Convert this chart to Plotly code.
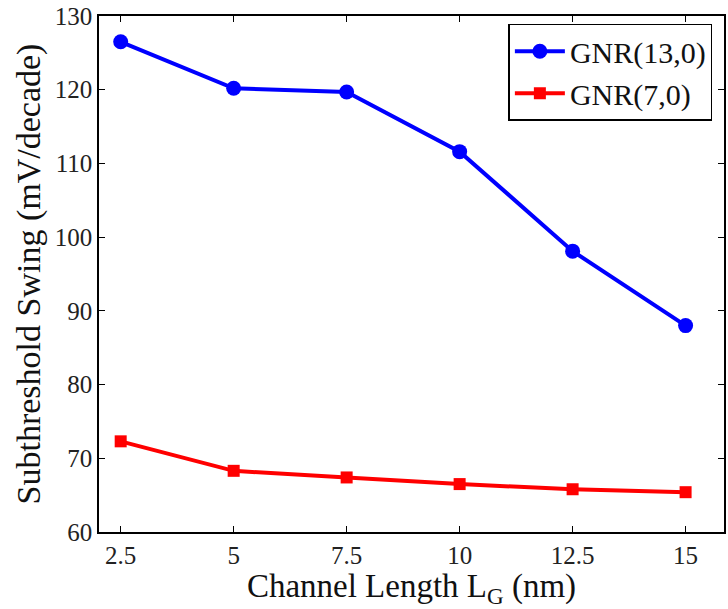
import plotly.graph_objects as go

channel_length = [2.5, 5, 7.5, 10, 12.5, 15]
gnr_13_0 = [126.5, 120.2, 119.7, 111.6, 98.1, 88.0]
gnr_7_0 = [72.3, 68.3, 67.4, 66.5, 65.8, 65.4]
x_ticks = [2.5, 5, 7.5, 10, 12.5, 15]
x_tick_text = ["2.5", "5", "7.5", "10", "12.5", "15"]
y_ticks = [60, 70, 80, 90, 100, 110, 120, 130]

font = "'Times New Roman', Times, 'Liberation Serif', 'DejaVu Serif', serif"

fig = go.Figure()
fig.add_trace(go.Scatter(x=channel_length, y=gnr_13_0, name="GNR(13,0)", mode="lines+markers",
                         line=dict(color="#0000ff", width=4),
                         marker=dict(symbol="circle", size=15, color="#0000ff")))
fig.add_trace(go.Scatter(x=channel_length, y=gnr_7_0, name="GNR(7,0)", mode="lines+markers",
                         line=dict(color="#ff0000", width=4),
                         marker=dict(symbol="square", size=12, color="#ff0000")))

axis_common = dict(showline=True, linecolor="black", linewidth=1.5, mirror="ticks",
                   ticks="inside", ticklen=6, tickcolor="black", showgrid=False, zeroline=False,
                   tickfont=dict(family=font, size=25, color="#222"))
fig.update_layout(
    width=728, height=609,
    margin=dict(l=99, r=2, t=16, b=77),
    paper_bgcolor="white", plot_bgcolor="white",
    font=dict(family=font, color="#111"),
    xaxis=dict(range=[2.02, 15.85], tickvals=x_ticks, ticktext=x_tick_text,
               title=dict(text="Channel Length L<sub>G</sub> (nm)", font=dict(family=font, size=33), standoff=2),
               **axis_common),
    yaxis=dict(range=[60, 130], tickvals=y_ticks,
               title=dict(text="Subthreshold Swing (mV/decade)", font=dict(family=font, size=34), standoff=4),
               **axis_common),
    legend=dict(x=0.655, y=0.985, xanchor="left", yanchor="top", bgcolor="white",
                bordercolor="black", borderwidth=1.5, font=dict(family=font, size=30),
                itemwidth=50, tracegroupgap=0),
    showlegend=True,
)
fig.write_html("out.html")
